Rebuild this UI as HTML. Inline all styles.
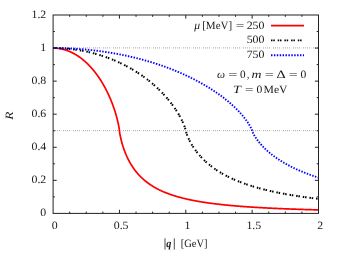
<!DOCTYPE html>
<html><head><meta charset="utf-8"><style>
html,body{margin:0;padding:0;background:#fff;}
svg{display:block}
text{font-family:"Liberation Serif",serif;font-size:11.2px;fill:#1a1a1a;text-rendering:geometricPrecision}
</style></head><body>
<svg width="342" height="254" viewBox="0 0 342 254">
<rect width="342" height="254" fill="#fff"/>
<g fill="none">
<path d="M53,47.97H318M53,130.63H318" stroke="#b6b6b6" stroke-width="1.2" stroke-dasharray="1,1,1,1,1,1,1,3"/>
<path d="M61,47.97H318M61,130.63H318" stroke="#ebebeb" stroke-width="1" stroke-dasharray="1,9"/>
<path d="M53.10,48.07 L53.43,48.07 L53.76,48.07 L54.10,48.08 L54.43,48.09 L54.76,48.10 L55.09,48.12 L55.42,48.13 L55.75,48.15 L56.09,48.18 L56.42,48.20 L56.75,48.23 L57.08,48.27 L57.41,48.30 L57.74,48.34 L58.08,48.38 L58.41,48.42 L58.74,48.47 L59.07,48.51 L59.40,48.56 L59.73,48.62 L60.07,48.68 L60.40,48.74 L60.73,48.80 L61.06,48.86 L61.39,48.93 L61.73,49.00 L62.06,49.07 L62.39,49.15 L62.72,49.23 L63.05,49.31 L63.38,49.40 L63.72,49.48 L64.05,49.58 L64.38,49.67 L64.71,49.76 L65.04,49.86 L65.37,49.97 L65.71,50.07 L66.04,50.18 L66.37,50.29 L66.70,50.40 L67.03,50.52 L67.37,50.64 L67.70,50.76 L68.03,50.89 L68.36,51.01 L68.69,51.14 L69.02,51.28 L69.36,51.42 L69.69,51.56 L70.02,51.70 L70.35,51.84 L70.68,51.99 L71.01,52.14 L71.35,52.30 L71.68,52.46 L72.01,52.62 L72.34,52.78 L72.67,52.95 L73.00,53.12 L73.34,53.29 L73.67,53.47 L74.00,53.65 L74.33,53.83 L74.66,54.02 L75.00,54.21 L75.33,54.40 L75.66,54.59 L75.99,54.79 L76.32,54.99 L76.65,55.20 L76.99,55.41 L77.32,55.62 L77.65,55.83 L77.98,56.05 L78.31,56.27 L78.64,56.49 L78.98,56.72 L79.31,56.95 L79.64,57.19 L79.97,57.43 L80.30,57.67 L80.64,57.91 L80.97,58.16 L81.30,58.41 L81.63,58.67 L81.96,58.93 L82.29,59.19 L82.63,59.45 L82.96,59.72 L83.29,60.00 L83.62,60.27 L83.95,60.55 L84.28,60.84 L84.62,61.12 L84.95,61.42 L85.28,61.71 L85.61,62.01 L85.94,62.31 L86.28,62.62 L86.61,62.93 L86.94,63.24 L87.27,63.56 L87.60,63.89 L87.93,64.21 L88.27,64.54 L88.60,64.88 L88.93,65.21 L89.26,65.56 L89.59,65.90 L89.92,66.26 L90.26,66.61 L90.59,66.97 L90.92,67.33 L91.25,67.70 L91.58,68.08 L91.91,68.45 L92.25,68.84 L92.58,69.22 L92.91,69.61 L93.24,70.01 L93.57,70.41 L93.91,70.81 L94.24,71.22 L94.57,71.64 L94.90,72.06 L95.23,72.48 L95.56,72.92 L95.90,73.35 L96.23,73.79 L96.56,74.24 L96.89,74.69 L97.22,75.14 L97.55,75.61 L97.89,76.07 L98.22,76.55 L98.55,77.03 L98.88,77.51 L99.21,78.00 L99.54,78.50 L99.88,79.00 L100.21,79.51 L100.54,80.02 L100.87,80.55 L101.20,81.07 L101.54,81.61 L101.87,82.15 L102.20,82.70 L102.53,83.25 L102.86,83.82 L103.19,84.38 L103.53,84.96 L103.86,85.55 L104.19,86.14 L104.52,86.74 L104.85,87.35 L105.18,87.96 L105.52,88.59 L105.85,89.22 L106.18,89.86 L106.51,90.52 L106.84,91.18 L107.18,91.85 L107.51,92.53 L107.84,93.22 L108.17,93.92 L108.50,94.63 L108.83,95.35 L109.17,96.09 L109.50,96.83 L109.83,97.59 L110.16,98.36 L110.49,99.14 L110.82,99.94 L111.16,100.75 L111.49,101.58 L111.82,102.42 L112.15,103.28 L112.48,104.15 L112.81,105.04 L113.15,105.95 L113.48,106.88 L113.81,107.83 L114.14,108.80 L114.47,109.80 L114.81,110.82 L115.14,111.87 L115.47,112.94 L115.80,114.05 L116.13,115.19 L116.46,116.37 L116.80,117.60 L117.13,118.87 L117.46,120.20 L117.79,121.59 L118.12,123.06 L118.45,124.63 L118.79,126.34 L119.12,128.25 L119.45,130.73 L119.78,133.20 L120.11,135.10 L120.45,136.76 L120.78,138.29 L121.11,139.70 L121.44,141.03 L121.77,142.29 L122.10,143.48 L122.44,144.62 L122.77,145.72 L123.10,146.77 L123.43,147.78 L123.76,148.75 L124.09,149.69 L124.43,150.60 L124.76,151.48 L125.09,152.34 L125.42,153.17 L125.75,153.97 L126.09,154.76 L126.42,155.52 L126.75,156.26 L127.08,156.99 L127.41,157.69 L127.74,158.38 L128.08,159.06 L128.41,159.71 L128.74,160.36 L129.07,160.98 L129.40,161.60 L129.73,162.20 L130.07,162.78 L130.40,163.36 L130.73,163.92 L131.06,164.47 L131.39,165.02 L131.72,165.55 L132.06,166.07 L132.39,166.57 L132.72,167.07 L133.05,167.57 L133.38,168.05 L133.72,168.52 L134.05,168.98 L134.38,169.44 L134.71,169.89 L135.04,170.33 L135.37,170.76 L135.71,171.18 L136.04,171.60 L136.37,172.01 L136.70,172.42 L137.03,172.81 L137.36,173.20 L137.70,173.59 L138.03,173.97 L138.36,174.34 L138.69,174.70 L139.02,175.06 L139.35,175.42 L139.69,175.77 L140.02,176.11 L140.35,176.45 L140.68,176.79 L141.01,177.11 L141.35,177.44 L141.68,177.76 L142.01,178.07 L142.34,178.38 L142.67,178.69 L143.00,178.99 L143.34,179.29 L143.67,179.58 L144.00,179.87 L144.33,180.15 L144.66,180.43 L144.99,180.71 L145.33,180.98 L145.66,181.25 L145.99,181.52 L146.32,181.78 L146.65,182.04 L146.99,182.29 L147.32,182.55 L147.65,182.79 L147.98,183.04 L148.31,183.28 L148.64,183.52 L148.98,183.76 L149.31,183.99 L149.64,184.22 L149.97,184.45 L150.30,184.67 L150.63,184.89 L150.97,185.11 L151.30,185.33 L151.63,185.54 L151.96,185.75 L152.29,185.96 L152.62,186.17 L152.96,186.37 L153.29,186.57 L153.62,186.77 L153.95,186.97 L154.28,187.16 L154.62,187.36 L154.95,187.55 L155.28,187.73 L155.61,187.92 L155.94,188.10 L156.27,188.28 L156.61,188.46 L156.94,188.64 L157.27,188.82 L157.60,188.99 L157.93,189.16 L158.26,189.33 L158.60,189.50 L158.93,189.66 L159.26,189.83 L159.59,189.99 L159.92,190.15 L160.26,190.31 L160.59,190.47 L160.92,190.62 L161.25,190.77 L161.58,190.93 L161.91,191.08 L162.25,191.23 L162.58,191.37 L162.91,191.52 L163.24,191.66 L163.57,191.81 L163.90,191.95 L164.24,192.09 L164.57,192.23 L164.90,192.36 L165.23,192.50 L165.56,192.63 L165.89,192.77 L166.23,192.90 L166.56,193.03 L166.89,193.16 L167.22,193.29 L167.55,193.41 L167.89,193.54 L168.22,193.66 L168.55,193.78 L168.88,193.91 L169.21,194.03 L169.54,194.15 L169.88,194.26 L170.21,194.38 L170.54,194.50 L170.87,194.61 L171.20,194.73 L171.53,194.84 L171.87,194.95 L172.20,195.06 L172.53,195.17 L172.86,195.28 L173.19,195.39 L173.53,195.49 L173.86,195.60 L174.19,195.71 L174.52,195.81 L174.85,195.91 L175.18,196.01 L175.52,196.11 L175.85,196.21 L176.18,196.31 L176.51,196.41 L176.84,196.51 L177.17,196.61 L177.51,196.70 L177.84,196.80 L178.17,196.89 L178.50,196.98 L178.83,197.08 L179.16,197.17 L179.50,197.26 L179.83,197.35 L180.16,197.44 L180.49,197.53 L180.82,197.62 L181.16,197.70 L181.49,197.79 L181.82,197.87 L182.15,197.96 L182.48,198.04 L182.81,198.13 L183.15,198.21 L183.48,198.29 L183.81,198.37 L184.14,198.45 L184.47,198.53 L184.80,198.61 L185.14,198.69 L185.47,198.77 L185.80,198.85 L186.13,198.92 L186.46,199.00 L186.80,199.08 L187.13,199.15 L187.46,199.23 L187.79,199.30 L188.12,199.37 L188.45,199.44 L188.79,199.52 L189.12,199.59 L189.45,199.66 L189.78,199.73 L190.11,199.80 L190.44,199.87 L190.78,199.94 L191.11,200.01 L191.44,200.07 L191.77,200.14 L192.10,200.21 L192.44,200.27 L192.77,200.34 L193.10,200.40 L193.43,200.47 L193.76,200.53 L194.09,200.60 L194.43,200.66 L194.76,200.72 L195.09,200.78 L195.42,200.85 L195.75,200.91 L196.08,200.97 L196.42,201.03 L196.75,201.09 L197.08,201.15 L197.41,201.21 L197.74,201.27 L198.07,201.32 L198.41,201.38 L198.74,201.44 L199.07,201.50 L199.40,201.55 L199.73,201.61 L200.07,201.66 L200.40,201.72 L200.73,201.77 L201.06,201.83 L201.39,201.88 L201.72,201.94 L202.06,201.99 L202.39,202.04 L202.72,202.10 L203.05,202.15 L203.38,202.20 L203.71,202.25 L204.05,202.30 L204.38,202.35 L204.71,202.40 L205.04,202.45 L205.37,202.50 L205.70,202.55 L206.04,202.60 L206.37,202.65 L206.70,202.70 L207.03,202.75 L207.36,202.79 L207.70,202.84 L208.03,202.89 L208.36,202.94 L208.69,202.98 L209.02,203.03 L209.35,203.07 L209.69,203.12 L210.02,203.16 L210.35,203.21 L210.68,203.25 L211.01,203.30 L211.34,203.34 L211.68,203.39 L212.01,203.43 L212.34,203.47 L212.67,203.52 L213.00,203.56 L213.34,203.60 L213.67,203.64 L214.00,203.68 L214.33,203.73 L214.66,203.77 L214.99,203.81 L215.33,203.85 L215.66,203.89 L215.99,203.93 L216.32,203.97 L216.65,204.01 L216.98,204.05 L217.32,204.09 L217.65,204.13 L217.98,204.16 L218.31,204.20 L218.64,204.24 L218.97,204.28 L219.31,204.32 L219.64,204.35 L219.97,204.39 L220.30,204.43 L220.63,204.46 L220.97,204.50 L221.30,204.54 L221.63,204.57 L221.96,204.61 L222.29,204.65 L222.62,204.68 L222.96,204.72 L223.29,204.75 L223.62,204.79 L223.95,204.82 L224.28,204.85 L224.61,204.89 L224.95,204.92 L225.28,204.96 L225.61,204.99 L225.94,205.02 L226.27,205.06 L226.61,205.09 L226.94,205.12 L227.27,205.15 L227.60,205.19 L227.93,205.22 L228.26,205.25 L228.60,205.28 L228.93,205.31 L229.26,205.35 L229.59,205.38 L229.92,205.41 L230.25,205.44 L230.59,205.47 L230.92,205.50 L231.25,205.53 L231.58,205.56 L231.91,205.59 L232.25,205.62 L232.58,205.65 L232.91,205.68 L233.24,205.71 L233.57,205.74 L233.90,205.77 L234.24,205.79 L234.57,205.82 L234.90,205.85 L235.23,205.88 L235.56,205.91 L235.89,205.94 L236.23,205.96 L236.56,205.99 L236.89,206.02 L237.22,206.05 L237.55,206.07 L237.88,206.10 L238.22,206.13 L238.55,206.15 L238.88,206.18 L239.21,206.21 L239.54,206.23 L239.88,206.26 L240.21,206.29 L240.54,206.31 L240.87,206.34 L241.20,206.36 L241.53,206.39 L241.87,206.41 L242.20,206.44 L242.53,206.46 L242.86,206.49 L243.19,206.51 L243.52,206.54 L243.86,206.56 L244.19,206.59 L244.52,206.61 L244.85,206.63 L245.18,206.66 L245.51,206.68 L245.85,206.71 L246.18,206.73 L246.51,206.75 L246.84,206.78 L247.17,206.80 L247.51,206.82 L247.84,206.85 L248.17,206.87 L248.50,206.89 L248.83,206.91 L249.16,206.94 L249.50,206.96 L249.83,206.98 L250.16,207.00 L250.49,207.03 L250.82,207.05 L251.15,207.07 L251.49,207.09 L251.82,207.11 L252.15,207.13 L252.48,207.15 L252.81,207.18 L253.15,207.20 L253.48,207.22 L253.81,207.24 L254.14,207.26 L254.47,207.28 L254.80,207.30 L255.14,207.32 L255.47,207.34 L255.80,207.36 L256.13,207.38 L256.46,207.40 L256.79,207.42 L257.13,207.44 L257.46,207.46 L257.79,207.48 L258.12,207.50 L258.45,207.52 L258.79,207.54 L259.12,207.56 L259.45,207.58 L259.78,207.60 L260.11,207.62 L260.44,207.64 L260.78,207.65 L261.11,207.67 L261.44,207.69 L261.77,207.71 L262.10,207.73 L262.43,207.75 L262.77,207.77 L263.10,207.78 L263.43,207.80 L263.76,207.82 L264.09,207.84 L264.42,207.86 L264.76,207.87 L265.09,207.89 L265.42,207.91 L265.75,207.93 L266.08,207.94 L266.42,207.96 L266.75,207.98 L267.08,207.99 L267.41,208.01 L267.74,208.03 L268.07,208.05 L268.41,208.06 L268.74,208.08 L269.07,208.10 L269.40,208.11 L269.73,208.13 L270.06,208.15 L270.40,208.16 L270.73,208.18 L271.06,208.19 L271.39,208.21 L271.72,208.23 L272.05,208.24 L272.39,208.26 L272.72,208.27 L273.05,208.29 L273.38,208.31 L273.71,208.32 L274.05,208.34 L274.38,208.35 L274.71,208.37 L275.04,208.38 L275.37,208.40 L275.70,208.41 L276.04,208.43 L276.37,208.44 L276.70,208.46 L277.03,208.47 L277.36,208.49 L277.69,208.50 L278.03,208.52 L278.36,208.53 L278.69,208.55 L279.02,208.56 L279.35,208.58 L279.69,208.59 L280.02,208.60 L280.35,208.62 L280.68,208.63 L281.01,208.65 L281.34,208.66 L281.68,208.68 L282.01,208.69 L282.34,208.70 L282.67,208.72 L283.00,208.73 L283.33,208.74 L283.67,208.76 L284.00,208.77 L284.33,208.78 L284.66,208.80 L284.99,208.81 L285.32,208.82 L285.66,208.84 L285.99,208.85 L286.32,208.86 L286.65,208.88 L286.98,208.89 L287.32,208.90 L287.65,208.92 L287.98,208.93 L288.31,208.94 L288.64,208.96 L288.97,208.97 L289.31,208.98 L289.64,208.99 L289.97,209.01 L290.30,209.02 L290.63,209.03 L290.96,209.04 L291.30,209.06 L291.63,209.07 L291.96,209.08 L292.29,209.09 L292.62,209.10 L292.96,209.12 L293.29,209.13 L293.62,209.14 L293.95,209.15 L294.28,209.16 L294.61,209.18 L294.95,209.19 L295.28,209.20 L295.61,209.21 L295.94,209.22 L296.27,209.23 L296.60,209.25 L296.94,209.26 L297.27,209.27 L297.60,209.28 L297.93,209.29 L298.26,209.30 L298.60,209.31 L298.93,209.32 L299.26,209.34 L299.59,209.35 L299.92,209.36 L300.25,209.37 L300.59,209.38 L300.92,209.39 L301.25,209.40 L301.58,209.41 L301.91,209.42 L302.24,209.43 L302.58,209.44 L302.91,209.46 L303.24,209.47 L303.57,209.48 L303.90,209.49 L304.23,209.50 L304.57,209.51 L304.90,209.52 L305.23,209.53 L305.56,209.54 L305.89,209.55 L306.23,209.56 L306.56,209.57 L306.89,209.58 L307.22,209.59 L307.55,209.60 L307.88,209.61 L308.22,209.62 L308.55,209.63 L308.88,209.64 L309.21,209.65 L309.54,209.66 L309.87,209.67 L310.21,209.68 L310.54,209.69 L310.87,209.70 L311.20,209.71 L311.53,209.72 L311.87,209.73 L312.20,209.74 L312.53,209.75 L312.86,209.76 L313.19,209.77 L313.52,209.77 L313.86,209.78 L314.19,209.79 L314.52,209.80 L314.85,209.81 L315.18,209.82 L315.51,209.83 L315.85,209.84 L316.18,209.85 L316.51,209.86 L316.84,209.87 L317.17,209.88 L317.50,209.88 L317.84,209.89 L318.17,209.90 L318.50,209.91" stroke="#ff0000" stroke-width="1.7" stroke-linejoin="round"/>
<path d="M53.10,48.07 L53.43,48.07 L53.76,48.07 L54.10,48.07 L54.43,48.07 L54.76,48.08 L55.09,48.08 L55.42,48.08 L55.75,48.09 L56.09,48.09 L56.42,48.10 L56.75,48.11 L57.08,48.12 L57.41,48.12 L57.74,48.13 L58.08,48.14 L58.41,48.15 L58.74,48.17 L59.07,48.18 L59.40,48.19 L59.73,48.20 L60.07,48.22 L60.40,48.23 L60.73,48.25 L61.06,48.27 L61.39,48.28 L61.73,48.30 L62.06,48.32 L62.39,48.34 L62.72,48.36 L63.05,48.38 L63.38,48.40 L63.72,48.42 L64.05,48.44 L64.38,48.47 L64.71,48.49 L65.04,48.51 L65.37,48.54 L65.71,48.56 L66.04,48.59 L66.37,48.62 L66.70,48.65 L67.03,48.68 L67.37,48.71 L67.70,48.74 L68.03,48.77 L68.36,48.80 L68.69,48.83 L69.02,48.86 L69.36,48.90 L69.69,48.93 L70.02,48.97 L70.35,49.00 L70.68,49.04 L71.01,49.07 L71.35,49.11 L71.68,49.15 L72.01,49.19 L72.34,49.23 L72.67,49.27 L73.00,49.31 L73.34,49.35 L73.67,49.40 L74.00,49.44 L74.33,49.48 L74.66,49.53 L75.00,49.58 L75.33,49.62 L75.66,49.67 L75.99,49.72 L76.32,49.76 L76.65,49.81 L76.99,49.86 L77.32,49.91 L77.65,49.97 L77.98,50.02 L78.31,50.07 L78.64,50.12 L78.98,50.18 L79.31,50.23 L79.64,50.29 L79.97,50.35 L80.30,50.40 L80.64,50.46 L80.97,50.52 L81.30,50.58 L81.63,50.64 L81.96,50.70 L82.29,50.76 L82.63,50.82 L82.96,50.89 L83.29,50.95 L83.62,51.01 L83.95,51.08 L84.28,51.14 L84.62,51.21 L84.95,51.28 L85.28,51.35 L85.61,51.42 L85.94,51.49 L86.28,51.56 L86.61,51.63 L86.94,51.70 L87.27,51.77 L87.60,51.84 L87.93,51.92 L88.27,51.99 L88.60,52.07 L88.93,52.14 L89.26,52.22 L89.59,52.30 L89.92,52.38 L90.26,52.46 L90.59,52.54 L90.92,52.62 L91.25,52.70 L91.58,52.78 L91.91,52.87 L92.25,52.95 L92.58,53.03 L92.91,53.12 L93.24,53.21 L93.57,53.29 L93.91,53.38 L94.24,53.47 L94.57,53.56 L94.90,53.65 L95.23,53.74 L95.56,53.83 L95.90,53.92 L96.23,54.02 L96.56,54.11 L96.89,54.21 L97.22,54.30 L97.55,54.40 L97.89,54.49 L98.22,54.59 L98.55,54.69 L98.88,54.79 L99.21,54.89 L99.54,54.99 L99.88,55.09 L100.21,55.20 L100.54,55.30 L100.87,55.41 L101.20,55.51 L101.54,55.62 L101.87,55.72 L102.20,55.83 L102.53,55.94 L102.86,56.05 L103.19,56.16 L103.53,56.27 L103.86,56.38 L104.19,56.49 L104.52,56.61 L104.85,56.72 L105.18,56.84 L105.52,56.95 L105.85,57.07 L106.18,57.19 L106.51,57.31 L106.84,57.43 L107.18,57.55 L107.51,57.67 L107.84,57.79 L108.17,57.91 L108.50,58.04 L108.83,58.16 L109.17,58.29 L109.50,58.41 L109.83,58.54 L110.16,58.67 L110.49,58.80 L110.82,58.93 L111.16,59.06 L111.49,59.19 L111.82,59.32 L112.15,59.45 L112.48,59.59 L112.81,59.72 L113.15,59.86 L113.48,60.00 L113.81,60.13 L114.14,60.27 L114.47,60.41 L114.81,60.55 L115.14,60.69 L115.47,60.84 L115.80,60.98 L116.13,61.12 L116.46,61.27 L116.80,61.42 L117.13,61.56 L117.46,61.71 L117.79,61.86 L118.12,62.01 L118.45,62.16 L118.79,62.31 L119.12,62.47 L119.45,62.62 L119.78,62.77 L120.11,62.93 L120.45,63.09 L120.78,63.24 L121.11,63.40 L121.44,63.56 L121.77,63.72 L122.10,63.89 L122.44,64.05 L122.77,64.21 L123.10,64.38 L123.43,64.54 L123.76,64.71 L124.09,64.88 L124.43,65.05 L124.76,65.21 L125.09,65.39 L125.42,65.56 L125.75,65.73 L126.09,65.90 L126.42,66.08 L126.75,66.26 L127.08,66.43 L127.41,66.61 L127.74,66.79 L128.08,66.97 L128.41,67.15 L128.74,67.33 L129.07,67.52 L129.40,67.70 L129.73,67.89 L130.07,68.08 L130.40,68.26 L130.73,68.45 L131.06,68.64 L131.39,68.84 L131.72,69.03 L132.06,69.22 L132.39,69.42 L132.72,69.61 L133.05,69.81 L133.38,70.01 L133.72,70.21 L134.05,70.41 L134.38,70.61 L134.71,70.81 L135.04,71.02 L135.37,71.22 L135.71,71.43 L136.04,71.64 L136.37,71.85 L136.70,72.06 L137.03,72.27 L137.36,72.48 L137.70,72.70 L138.03,72.92 L138.36,73.13 L138.69,73.35 L139.02,73.57 L139.35,73.79 L139.69,74.01 L140.02,74.24 L140.35,74.46 L140.68,74.69 L141.01,74.91 L141.35,75.14 L141.68,75.37 L142.01,75.61 L142.34,75.84 L142.67,76.07 L143.00,76.31 L143.34,76.55 L143.67,76.79 L144.00,77.03 L144.33,77.27 L144.66,77.51 L144.99,77.75 L145.33,78.00 L145.66,78.25 L145.99,78.50 L146.32,78.75 L146.65,79.00 L146.99,79.25 L147.32,79.51 L147.65,79.77 L147.98,80.02 L148.31,80.28 L148.64,80.55 L148.98,80.81 L149.31,81.07 L149.64,81.34 L149.97,81.61 L150.30,81.88 L150.63,82.15 L150.97,82.42 L151.30,82.70 L151.63,82.97 L151.96,83.25 L152.29,83.53 L152.62,83.82 L152.96,84.10 L153.29,84.38 L153.62,84.67 L153.95,84.96 L154.28,85.25 L154.62,85.55 L154.95,85.84 L155.28,86.14 L155.61,86.44 L155.94,86.74 L156.27,87.04 L156.61,87.35 L156.94,87.65 L157.27,87.96 L157.60,88.28 L157.93,88.59 L158.26,88.90 L158.60,89.22 L158.93,89.54 L159.26,89.86 L159.59,90.19 L159.92,90.52 L160.26,90.85 L160.59,91.18 L160.92,91.51 L161.25,91.85 L161.58,92.19 L161.91,92.53 L162.25,92.87 L162.58,93.22 L162.91,93.57 L163.24,93.92 L163.57,94.27 L163.90,94.63 L164.24,94.99 L164.57,95.35 L164.90,95.72 L165.23,96.09 L165.56,96.46 L165.89,96.83 L166.23,97.21 L166.56,97.59 L166.89,97.97 L167.22,98.36 L167.55,98.75 L167.89,99.14 L168.22,99.54 L168.55,99.94 L168.88,100.34 L169.21,100.75 L169.54,101.16 L169.88,101.58 L170.21,102.00 L170.54,102.42 L170.87,102.84 L171.20,103.28 L171.53,103.71 L171.87,104.15 L172.20,104.59 L172.53,105.04 L172.86,105.49 L173.19,105.95 L173.53,106.41 L173.86,106.88 L174.19,107.35 L174.52,107.83 L174.85,108.31 L175.18,108.80 L175.52,109.30 L175.85,109.80 L176.18,110.30 L176.51,110.82 L176.84,111.34 L177.17,111.87 L177.51,112.40 L177.84,112.94 L178.17,113.49 L178.50,114.05 L178.83,114.62 L179.16,115.19 L179.50,115.78 L179.83,116.37 L180.16,116.98 L180.49,117.60 L180.82,118.23 L181.16,118.87 L181.49,119.52 L181.82,120.20 L182.15,120.88 L182.48,121.59 L182.81,122.31 L183.15,123.06 L183.48,123.83 L183.81,124.63 L184.14,125.46 L184.47,126.34 L184.80,127.26 L185.14,128.25 L185.47,129.35 L185.80,130.73 L186.13,132.11 L186.46,133.20 L186.80,134.19 L187.13,135.10 L187.46,135.95 L187.79,136.76 L188.12,137.54 L188.45,138.29 L188.79,139.01 L189.12,139.70 L189.45,140.38 L189.78,141.03 L190.11,141.67 L190.44,142.29 L190.78,142.89 L191.11,143.48 L191.44,144.06 L191.77,144.62 L192.10,145.18 L192.44,145.72 L192.77,146.25 L193.10,146.77 L193.43,147.28 L193.76,147.78 L194.09,148.27 L194.43,148.75 L194.76,149.22 L195.09,149.69 L195.42,150.15 L195.75,150.60 L196.08,151.04 L196.42,151.48 L196.75,151.91 L197.08,152.34 L197.41,152.76 L197.74,153.17 L198.07,153.57 L198.41,153.97 L198.74,154.37 L199.07,154.76 L199.40,155.14 L199.73,155.52 L200.07,155.89 L200.40,156.26 L200.73,156.63 L201.06,156.99 L201.39,157.34 L201.72,157.69 L202.06,158.04 L202.39,158.38 L202.72,158.72 L203.05,159.06 L203.38,159.39 L203.71,159.71 L204.05,160.04 L204.38,160.36 L204.71,160.67 L205.04,160.98 L205.37,161.29 L205.70,161.60 L206.04,161.90 L206.37,162.20 L206.70,162.49 L207.03,162.78 L207.36,163.07 L207.70,163.36 L208.03,163.64 L208.36,163.92 L208.69,164.20 L209.02,164.47 L209.35,164.75 L209.69,165.02 L210.02,165.28 L210.35,165.55 L210.68,165.81 L211.01,166.07 L211.34,166.32 L211.68,166.57 L212.01,166.83 L212.34,167.07 L212.67,167.32 L213.00,167.57 L213.34,167.81 L213.67,168.05 L214.00,168.28 L214.33,168.52 L214.66,168.75 L214.99,168.98 L215.33,169.21 L215.66,169.44 L215.99,169.66 L216.32,169.89 L216.65,170.11 L216.98,170.33 L217.32,170.54 L217.65,170.76 L217.98,170.97 L218.31,171.18 L218.64,171.39 L218.97,171.60 L219.31,171.81 L219.64,172.01 L219.97,172.21 L220.30,172.42 L220.63,172.62 L220.97,172.81 L221.30,173.01 L221.63,173.20 L221.96,173.40 L222.29,173.59 L222.62,173.78 L222.96,173.97 L223.29,174.15 L223.62,174.34 L223.95,174.52 L224.28,174.70 L224.61,174.89 L224.95,175.06 L225.28,175.24 L225.61,175.42 L225.94,175.59 L226.27,175.77 L226.61,175.94 L226.94,176.11 L227.27,176.28 L227.60,176.45 L227.93,176.62 L228.26,176.79 L228.60,176.95 L228.93,177.11 L229.26,177.28 L229.59,177.44 L229.92,177.60 L230.25,177.76 L230.59,177.92 L230.92,178.07 L231.25,178.23 L231.58,178.38 L231.91,178.54 L232.25,178.69 L232.58,178.84 L232.91,178.99 L233.24,179.14 L233.57,179.29 L233.90,179.43 L234.24,179.58 L234.57,179.72 L234.90,179.87 L235.23,180.01 L235.56,180.15 L235.89,180.29 L236.23,180.43 L236.56,180.57 L236.89,180.71 L237.22,180.85 L237.55,180.98 L237.88,181.12 L238.22,181.25 L238.55,181.38 L238.88,181.52 L239.21,181.65 L239.54,181.78 L239.88,181.91 L240.21,182.04 L240.54,182.17 L240.87,182.29 L241.20,182.42 L241.53,182.55 L241.87,182.67 L242.20,182.79 L242.53,182.92 L242.86,183.04 L243.19,183.16 L243.52,183.28 L243.86,183.40 L244.19,183.52 L244.52,183.64 L244.85,183.76 L245.18,183.87 L245.51,183.99 L245.85,184.11 L246.18,184.22 L246.51,184.33 L246.84,184.45 L247.17,184.56 L247.51,184.67 L247.84,184.78 L248.17,184.89 L248.50,185.00 L248.83,185.11 L249.16,185.22 L249.50,185.33 L249.83,185.44 L250.16,185.54 L250.49,185.65 L250.82,185.75 L251.15,185.86 L251.49,185.96 L251.82,186.07 L252.15,186.17 L252.48,186.27 L252.81,186.37 L253.15,186.47 L253.48,186.57 L253.81,186.67 L254.14,186.77 L254.47,186.87 L254.80,186.97 L255.14,187.07 L255.47,187.16 L255.80,187.26 L256.13,187.36 L256.46,187.45 L256.79,187.55 L257.13,187.64 L257.46,187.73 L257.79,187.83 L258.12,187.92 L258.45,188.01 L258.79,188.10 L259.12,188.19 L259.45,188.28 L259.78,188.37 L260.11,188.46 L260.44,188.55 L260.78,188.64 L261.11,188.73 L261.44,188.82 L261.77,188.90 L262.10,188.99 L262.43,189.07 L262.77,189.16 L263.10,189.24 L263.43,189.33 L263.76,189.41 L264.09,189.50 L264.42,189.58 L264.76,189.66 L265.09,189.74 L265.42,189.83 L265.75,189.91 L266.08,189.99 L266.42,190.07 L266.75,190.15 L267.08,190.23 L267.41,190.31 L267.74,190.39 L268.07,190.47 L268.41,190.54 L268.74,190.62 L269.07,190.70 L269.40,190.77 L269.73,190.85 L270.06,190.93 L270.40,191.00 L270.73,191.08 L271.06,191.15 L271.39,191.23 L271.72,191.30 L272.05,191.37 L272.39,191.45 L272.72,191.52 L273.05,191.59 L273.38,191.66 L273.71,191.73 L274.05,191.81 L274.38,191.88 L274.71,191.95 L275.04,192.02 L275.37,192.09 L275.70,192.16 L276.04,192.23 L276.37,192.29 L276.70,192.36 L277.03,192.43 L277.36,192.50 L277.69,192.57 L278.03,192.63 L278.36,192.70 L278.69,192.77 L279.02,192.83 L279.35,192.90 L279.69,192.96 L280.02,193.03 L280.35,193.09 L280.68,193.16 L281.01,193.22 L281.34,193.29 L281.68,193.35 L282.01,193.41 L282.34,193.48 L282.67,193.54 L283.00,193.60 L283.33,193.66 L283.67,193.72 L284.00,193.78 L284.33,193.85 L284.66,193.91 L284.99,193.97 L285.32,194.03 L285.66,194.09 L285.99,194.15 L286.32,194.21 L286.65,194.26 L286.98,194.32 L287.32,194.38 L287.65,194.44 L287.98,194.50 L288.31,194.56 L288.64,194.61 L288.97,194.67 L289.31,194.73 L289.64,194.78 L289.97,194.84 L290.30,194.90 L290.63,194.95 L290.96,195.01 L291.30,195.06 L291.63,195.12 L291.96,195.17 L292.29,195.23 L292.62,195.28 L292.96,195.33 L293.29,195.39 L293.62,195.44 L293.95,195.49 L294.28,195.55 L294.61,195.60 L294.95,195.65 L295.28,195.71 L295.61,195.76 L295.94,195.81 L296.27,195.86 L296.60,195.91 L296.94,195.96 L297.27,196.01 L297.60,196.06 L297.93,196.11 L298.26,196.17 L298.60,196.21 L298.93,196.26 L299.26,196.31 L299.59,196.36 L299.92,196.41 L300.25,196.46 L300.59,196.51 L300.92,196.56 L301.25,196.61 L301.58,196.65 L301.91,196.70 L302.24,196.75 L302.58,196.80 L302.91,196.84 L303.24,196.89 L303.57,196.94 L303.90,196.98 L304.23,197.03 L304.57,197.08 L304.90,197.12 L305.23,197.17 L305.56,197.21 L305.89,197.26 L306.23,197.30 L306.56,197.35 L306.89,197.39 L307.22,197.44 L307.55,197.48 L307.88,197.53 L308.22,197.57 L308.55,197.62 L308.88,197.66 L309.21,197.70 L309.54,197.75 L309.87,197.79 L310.21,197.83 L310.54,197.87 L310.87,197.92 L311.20,197.96 L311.53,198.00 L311.87,198.04 L312.20,198.09 L312.53,198.13 L312.86,198.17 L313.19,198.21 L313.52,198.25 L313.86,198.29 L314.19,198.33 L314.52,198.37 L314.85,198.41 L315.18,198.45 L315.51,198.49 L315.85,198.53 L316.18,198.57 L316.51,198.61 L316.84,198.65 L317.17,198.69 L317.50,198.73 L317.84,198.77 L318.17,198.81 L318.50,198.85" stroke="#000" stroke-width="2.0" stroke-dasharray="1.5,0.8,1.5,2.9"/>
<path d="M53.10,48.07 L53.43,48.07 L53.76,48.07 L54.10,48.07 L54.43,48.07 L54.76,48.07 L55.09,48.07 L55.42,48.07 L55.75,48.08 L56.09,48.08 L56.42,48.08 L56.75,48.09 L57.08,48.09 L57.41,48.09 L57.74,48.10 L58.08,48.10 L58.41,48.11 L58.74,48.11 L59.07,48.12 L59.40,48.12 L59.73,48.13 L60.07,48.13 L60.40,48.14 L60.73,48.15 L61.06,48.15 L61.39,48.16 L61.73,48.17 L62.06,48.18 L62.39,48.19 L62.72,48.20 L63.05,48.20 L63.38,48.21 L63.72,48.22 L64.05,48.23 L64.38,48.24 L64.71,48.25 L65.04,48.27 L65.37,48.28 L65.71,48.29 L66.04,48.30 L66.37,48.31 L66.70,48.32 L67.03,48.34 L67.37,48.35 L67.70,48.36 L68.03,48.38 L68.36,48.39 L68.69,48.41 L69.02,48.42 L69.36,48.43 L69.69,48.45 L70.02,48.47 L70.35,48.48 L70.68,48.50 L71.01,48.51 L71.35,48.53 L71.68,48.55 L72.01,48.56 L72.34,48.58 L72.67,48.60 L73.00,48.62 L73.34,48.64 L73.67,48.66 L74.00,48.68 L74.33,48.70 L74.66,48.71 L75.00,48.74 L75.33,48.76 L75.66,48.78 L75.99,48.80 L76.32,48.82 L76.65,48.84 L76.99,48.86 L77.32,48.88 L77.65,48.91 L77.98,48.93 L78.31,48.95 L78.64,48.98 L78.98,49.00 L79.31,49.03 L79.64,49.05 L79.97,49.07 L80.30,49.10 L80.64,49.13 L80.97,49.15 L81.30,49.18 L81.63,49.20 L81.96,49.23 L82.29,49.26 L82.63,49.28 L82.96,49.31 L83.29,49.34 L83.62,49.37 L83.95,49.40 L84.28,49.43 L84.62,49.46 L84.95,49.48 L85.28,49.51 L85.61,49.54 L85.94,49.58 L86.28,49.61 L86.61,49.64 L86.94,49.67 L87.27,49.70 L87.60,49.73 L87.93,49.76 L88.27,49.80 L88.60,49.83 L88.93,49.86 L89.26,49.90 L89.59,49.93 L89.92,49.97 L90.26,50.00 L90.59,50.04 L90.92,50.07 L91.25,50.11 L91.58,50.14 L91.91,50.18 L92.25,50.22 L92.58,50.25 L92.91,50.29 L93.24,50.33 L93.57,50.36 L93.91,50.40 L94.24,50.44 L94.57,50.48 L94.90,50.52 L95.23,50.56 L95.56,50.60 L95.90,50.64 L96.23,50.68 L96.56,50.72 L96.89,50.76 L97.22,50.80 L97.55,50.84 L97.89,50.89 L98.22,50.93 L98.55,50.97 L98.88,51.01 L99.21,51.06 L99.54,51.10 L99.88,51.14 L100.21,51.19 L100.54,51.23 L100.87,51.28 L101.20,51.32 L101.54,51.37 L101.87,51.42 L102.20,51.46 L102.53,51.51 L102.86,51.56 L103.19,51.60 L103.53,51.65 L103.86,51.70 L104.19,51.75 L104.52,51.80 L104.85,51.84 L105.18,51.89 L105.52,51.94 L105.85,51.99 L106.18,52.04 L106.51,52.09 L106.84,52.14 L107.18,52.20 L107.51,52.25 L107.84,52.30 L108.17,52.35 L108.50,52.40 L108.83,52.46 L109.17,52.51 L109.50,52.56 L109.83,52.62 L110.16,52.67 L110.49,52.73 L110.82,52.78 L111.16,52.84 L111.49,52.89 L111.82,52.95 L112.15,53.01 L112.48,53.06 L112.81,53.12 L113.15,53.18 L113.48,53.23 L113.81,53.29 L114.14,53.35 L114.47,53.41 L114.81,53.47 L115.14,53.53 L115.47,53.59 L115.80,53.65 L116.13,53.71 L116.46,53.77 L116.80,53.83 L117.13,53.89 L117.46,53.95 L117.79,54.02 L118.12,54.08 L118.45,54.14 L118.79,54.21 L119.12,54.27 L119.45,54.33 L119.78,54.40 L120.11,54.46 L120.45,54.53 L120.78,54.59 L121.11,54.66 L121.44,54.72 L121.77,54.79 L122.10,54.86 L122.44,54.92 L122.77,54.99 L123.10,55.06 L123.43,55.13 L123.76,55.20 L124.09,55.27 L124.43,55.34 L124.76,55.41 L125.09,55.48 L125.42,55.55 L125.75,55.62 L126.09,55.69 L126.42,55.76 L126.75,55.83 L127.08,55.90 L127.41,55.98 L127.74,56.05 L128.08,56.12 L128.41,56.20 L128.74,56.27 L129.07,56.34 L129.40,56.42 L129.73,56.49 L130.07,56.57 L130.40,56.65 L130.73,56.72 L131.06,56.80 L131.39,56.88 L131.72,56.95 L132.06,57.03 L132.39,57.11 L132.72,57.19 L133.05,57.27 L133.38,57.35 L133.72,57.43 L134.05,57.51 L134.38,57.59 L134.71,57.67 L135.04,57.75 L135.37,57.83 L135.71,57.91 L136.04,57.99 L136.37,58.08 L136.70,58.16 L137.03,58.24 L137.36,58.33 L137.70,58.41 L138.03,58.50 L138.36,58.58 L138.69,58.67 L139.02,58.75 L139.35,58.84 L139.69,58.93 L140.02,59.01 L140.35,59.10 L140.68,59.19 L141.01,59.28 L141.35,59.36 L141.68,59.45 L142.01,59.54 L142.34,59.63 L142.67,59.72 L143.00,59.81 L143.34,59.90 L143.67,60.00 L144.00,60.09 L144.33,60.18 L144.66,60.27 L144.99,60.37 L145.33,60.46 L145.66,60.55 L145.99,60.65 L146.32,60.74 L146.65,60.84 L146.99,60.93 L147.32,61.03 L147.65,61.12 L147.98,61.22 L148.31,61.32 L148.64,61.42 L148.98,61.51 L149.31,61.61 L149.64,61.71 L149.97,61.81 L150.30,61.91 L150.63,62.01 L150.97,62.11 L151.30,62.21 L151.63,62.31 L151.96,62.41 L152.29,62.52 L152.62,62.62 L152.96,62.72 L153.29,62.83 L153.62,62.93 L153.95,63.03 L154.28,63.14 L154.62,63.24 L154.95,63.35 L155.28,63.46 L155.61,63.56 L155.94,63.67 L156.27,63.78 L156.61,63.89 L156.94,63.99 L157.27,64.10 L157.60,64.21 L157.93,64.32 L158.26,64.43 L158.60,64.54 L158.93,64.65 L159.26,64.76 L159.59,64.88 L159.92,64.99 L160.26,65.10 L160.59,65.21 L160.92,65.33 L161.25,65.44 L161.58,65.56 L161.91,65.67 L162.25,65.79 L162.58,65.90 L162.91,66.02 L163.24,66.14 L163.57,66.26 L163.90,66.37 L164.24,66.49 L164.57,66.61 L164.90,66.73 L165.23,66.85 L165.56,66.97 L165.89,67.09 L166.23,67.21 L166.56,67.33 L166.89,67.46 L167.22,67.58 L167.55,67.70 L167.89,67.83 L168.22,67.95 L168.55,68.08 L168.88,68.20 L169.21,68.33 L169.54,68.45 L169.88,68.58 L170.21,68.71 L170.54,68.84 L170.87,68.96 L171.20,69.09 L171.53,69.22 L171.87,69.35 L172.20,69.48 L172.53,69.61 L172.86,69.74 L173.19,69.88 L173.53,70.01 L173.86,70.14 L174.19,70.28 L174.52,70.41 L174.85,70.54 L175.18,70.68 L175.52,70.81 L175.85,70.95 L176.18,71.09 L176.51,71.22 L176.84,71.36 L177.17,71.50 L177.51,71.64 L177.84,71.78 L178.17,71.92 L178.50,72.06 L178.83,72.20 L179.16,72.34 L179.50,72.48 L179.83,72.63 L180.16,72.77 L180.49,72.92 L180.82,73.06 L181.16,73.20 L181.49,73.35 L181.82,73.50 L182.15,73.64 L182.48,73.79 L182.81,73.94 L183.15,74.09 L183.48,74.24 L183.81,74.39 L184.14,74.54 L184.47,74.69 L184.80,74.84 L185.14,74.99 L185.47,75.14 L185.80,75.30 L186.13,75.45 L186.46,75.61 L186.80,75.76 L187.13,75.92 L187.46,76.07 L187.79,76.23 L188.12,76.39 L188.45,76.55 L188.79,76.71 L189.12,76.86 L189.45,77.03 L189.78,77.19 L190.11,77.35 L190.44,77.51 L190.78,77.67 L191.11,77.84 L191.44,78.00 L191.77,78.17 L192.10,78.33 L192.44,78.50 L192.77,78.66 L193.10,78.83 L193.43,79.00 L193.76,79.17 L194.09,79.34 L194.43,79.51 L194.76,79.68 L195.09,79.85 L195.42,80.02 L195.75,80.20 L196.08,80.37 L196.42,80.55 L196.75,80.72 L197.08,80.90 L197.41,81.07 L197.74,81.25 L198.07,81.43 L198.41,81.61 L198.74,81.79 L199.07,81.97 L199.40,82.15 L199.73,82.33 L200.07,82.51 L200.40,82.70 L200.73,82.88 L201.06,83.07 L201.39,83.25 L201.72,83.44 L202.06,83.63 L202.39,83.82 L202.72,84.00 L203.05,84.19 L203.38,84.38 L203.71,84.58 L204.05,84.77 L204.38,84.96 L204.71,85.16 L205.04,85.35 L205.37,85.55 L205.70,85.74 L206.04,85.94 L206.37,86.14 L206.70,86.34 L207.03,86.54 L207.36,86.74 L207.70,86.94 L208.03,87.14 L208.36,87.35 L208.69,87.55 L209.02,87.76 L209.35,87.96 L209.69,88.17 L210.02,88.38 L210.35,88.59 L210.68,88.80 L211.01,89.01 L211.34,89.22 L211.68,89.44 L212.01,89.65 L212.34,89.86 L212.67,90.08 L213.00,90.30 L213.34,90.52 L213.67,90.74 L214.00,90.96 L214.33,91.18 L214.66,91.40 L214.99,91.62 L215.33,91.85 L215.66,92.07 L215.99,92.30 L216.32,92.53 L216.65,92.76 L216.98,92.99 L217.32,93.22 L217.65,93.45 L217.98,93.68 L218.31,93.92 L218.64,94.15 L218.97,94.39 L219.31,94.63 L219.64,94.87 L219.97,95.11 L220.30,95.35 L220.63,95.60 L220.97,95.84 L221.30,96.09 L221.63,96.33 L221.96,96.58 L222.29,96.83 L222.62,97.08 L222.96,97.34 L223.29,97.59 L223.62,97.85 L223.95,98.10 L224.28,98.36 L224.61,98.62 L224.95,98.88 L225.28,99.14 L225.61,99.41 L225.94,99.67 L226.27,99.94 L226.61,100.21 L226.94,100.48 L227.27,100.75 L227.60,101.02 L227.93,101.30 L228.26,101.58 L228.60,101.86 L228.93,102.14 L229.26,102.42 L229.59,102.70 L229.92,102.99 L230.25,103.28 L230.59,103.56 L230.92,103.86 L231.25,104.15 L231.58,104.44 L231.91,104.74 L232.25,105.04 L232.58,105.34 L232.91,105.64 L233.24,105.95 L233.57,106.26 L233.90,106.57 L234.24,106.88 L234.57,107.19 L234.90,107.51 L235.23,107.83 L235.56,108.15 L235.89,108.48 L236.23,108.80 L236.56,109.13 L236.89,109.46 L237.22,109.80 L237.55,110.13 L237.88,110.47 L238.22,110.82 L238.55,111.16 L238.88,111.51 L239.21,111.87 L239.54,112.22 L239.88,112.58 L240.21,112.94 L240.54,113.31 L240.87,113.68 L241.20,114.05 L241.53,114.43 L241.87,114.81 L242.20,115.19 L242.53,115.58 L242.86,115.97 L243.19,116.37 L243.52,116.78 L243.86,117.18 L244.19,117.60 L244.52,118.01 L244.85,118.44 L245.18,118.87 L245.51,119.30 L245.85,119.75 L246.18,120.20 L246.51,120.65 L246.84,121.12 L247.17,121.59 L247.51,122.07 L247.84,122.56 L248.17,123.06 L248.50,123.57 L248.83,124.09 L249.16,124.63 L249.50,125.18 L249.83,125.75 L250.16,126.34 L250.49,126.94 L250.82,127.58 L251.15,128.25 L251.49,128.97 L251.82,129.76 L252.15,130.73 L252.48,131.71 L252.81,132.49 L253.15,133.20 L253.48,133.87 L253.81,134.50 L254.14,135.10 L254.47,135.67 L254.80,136.23 L255.14,136.76 L255.47,137.29 L255.80,137.79 L256.13,138.29 L256.46,138.77 L256.79,139.24 L257.13,139.70 L257.46,140.16 L257.79,140.60 L258.12,141.03 L258.45,141.46 L258.79,141.88 L259.12,142.29 L259.45,142.69 L259.78,143.09 L260.11,143.48 L260.44,143.87 L260.78,144.25 L261.11,144.62 L261.44,144.99 L261.77,145.36 L262.10,145.72 L262.43,146.07 L262.77,146.42 L263.10,146.77 L263.43,147.11 L263.76,147.44 L264.09,147.78 L264.42,148.10 L264.76,148.43 L265.09,148.75 L265.42,149.07 L265.75,149.38 L266.08,149.69 L266.42,150.00 L266.75,150.30 L267.08,150.60 L267.41,150.90 L267.74,151.19 L268.07,151.48 L268.41,151.77 L268.74,152.05 L269.07,152.34 L269.40,152.62 L269.73,152.89 L270.06,153.17 L270.40,153.44 L270.73,153.71 L271.06,153.97 L271.39,154.24 L271.72,154.50 L272.05,154.76 L272.39,155.01 L272.72,155.27 L273.05,155.52 L273.38,155.77 L273.71,156.02 L274.05,156.26 L274.38,156.51 L274.71,156.75 L275.04,156.99 L275.37,157.23 L275.70,157.46 L276.04,157.69 L276.37,157.93 L276.70,158.16 L277.03,158.38 L277.36,158.61 L277.69,158.83 L278.03,159.06 L278.36,159.28 L278.69,159.50 L279.02,159.71 L279.35,159.93 L279.69,160.14 L280.02,160.36 L280.35,160.57 L280.68,160.77 L281.01,160.98 L281.34,161.19 L281.68,161.39 L282.01,161.60 L282.34,161.80 L282.67,162.00 L283.00,162.20 L283.33,162.39 L283.67,162.59 L284.00,162.78 L284.33,162.98 L284.66,163.17 L284.99,163.36 L285.32,163.55 L285.66,163.74 L285.99,163.92 L286.32,164.11 L286.65,164.29 L286.98,164.47 L287.32,164.66 L287.65,164.84 L287.98,165.02 L288.31,165.19 L288.64,165.37 L288.97,165.55 L289.31,165.72 L289.64,165.89 L289.97,166.07 L290.30,166.24 L290.63,166.41 L290.96,166.57 L291.30,166.74 L291.63,166.91 L291.96,167.07 L292.29,167.24 L292.62,167.40 L292.96,167.57 L293.29,167.73 L293.62,167.89 L293.95,168.05 L294.28,168.21 L294.61,168.36 L294.95,168.52 L295.28,168.68 L295.61,168.83 L295.94,168.98 L296.27,169.14 L296.60,169.29 L296.94,169.44 L297.27,169.59 L297.60,169.74 L297.93,169.89 L298.26,170.03 L298.60,170.18 L298.93,170.33 L299.26,170.47 L299.59,170.62 L299.92,170.76 L300.25,170.90 L300.59,171.04 L300.92,171.18 L301.25,171.32 L301.58,171.46 L301.91,171.60 L302.24,171.74 L302.58,171.88 L302.91,172.01 L303.24,172.15 L303.57,172.28 L303.90,172.42 L304.23,172.55 L304.57,172.68 L304.90,172.81 L305.23,172.94 L305.56,173.07 L305.89,173.20 L306.23,173.33 L306.56,173.46 L306.89,173.59 L307.22,173.71 L307.55,173.84 L307.88,173.97 L308.22,174.09 L308.55,174.21 L308.88,174.34 L309.21,174.46 L309.54,174.58 L309.87,174.70 L310.21,174.82 L310.54,174.95 L310.87,175.06 L311.20,175.18 L311.53,175.30 L311.87,175.42 L312.20,175.54 L312.53,175.65 L312.86,175.77 L313.19,175.88 L313.52,176.00 L313.86,176.11 L314.19,176.23 L314.52,176.34 L314.85,176.45 L315.18,176.56 L315.51,176.67 L315.85,176.79 L316.18,176.90 L316.51,177.01 L316.84,177.11 L317.17,177.22 L317.50,177.33 L317.84,177.44 L318.17,177.55 L318.50,177.65" stroke="#0000ff" stroke-width="1.9" stroke-dasharray="1.45,1.45"/>
<path d="M271,25.7H304" stroke="#ff0000" stroke-width="1.7"/>
<path d="M271,40.4H304" stroke="#000" stroke-width="1.8" stroke-dasharray="1.5,0.8,1.5,2.9"/>
<path d="M271,55.2H304" stroke="#0000ff" stroke-width="1.9" stroke-dasharray="1.45,1.45"/>
<rect x="53.1" y="15.0" width="265.40" height="198.40" stroke="#222" stroke-width="1"/>
<path d="M69.69,213.4v-1.8M69.69,15.0v1.8M86.28,213.4v-1.8M86.28,15.0v1.8M102.86,213.4v-1.8M102.86,15.0v1.8M119.45,213.4v-3.6M119.45,15.0v3.6M136.04,213.4v-1.8M136.04,15.0v1.8M152.62,213.4v-1.8M152.62,15.0v1.8M169.21,213.4v-1.8M169.21,15.0v1.8M185.80,213.4v-3.6M185.80,15.0v3.6M202.39,213.4v-1.8M202.39,15.0v1.8M218.97,213.4v-1.8M218.97,15.0v1.8M235.56,213.4v-1.8M235.56,15.0v1.8M252.15,213.4v-3.6M252.15,15.0v3.6M268.74,213.4v-1.8M268.74,15.0v1.8M285.32,213.4v-1.8M285.32,15.0v1.8M301.91,213.4v-1.8M301.91,15.0v1.8M53.1,196.87h1.8M318.5,196.87h-1.8M53.1,180.33h3.6M318.5,180.33h-3.6M53.1,163.80h1.8M318.5,163.80h-1.8M53.1,147.27h3.6M318.5,147.27h-3.6M53.1,130.73h1.8M318.5,130.73h-1.8M53.1,114.20h3.6M318.5,114.20h-3.6M53.1,97.67h1.8M318.5,97.67h-1.8M53.1,81.13h3.6M318.5,81.13h-3.6M53.1,64.60h1.8M318.5,64.60h-1.8M53.1,48.07h3.6M318.5,48.07h-3.6M53.1,31.53h1.8M318.5,31.53h-1.8" stroke="#222" stroke-width="1"/>
</g>
<g style="filter:grayscale(1)">
<text transform="translate(54.8,228.8) scale(1.06,1)" text-anchor="middle" font-size="11.9">0</text><text transform="translate(121.1,228.8) scale(1.06,1)" text-anchor="middle" font-size="11.9">0.5</text><text transform="translate(187.5,228.8) scale(1.06,1)" text-anchor="middle" font-size="11.9">1</text><text transform="translate(253.8,228.8) scale(1.06,1)" text-anchor="middle" font-size="11.9">1.5</text><text transform="translate(320.2,228.8) scale(1.06,1)" text-anchor="middle" font-size="11.9">2</text><text transform="translate(46.3,216.2) scale(1.06,1)" text-anchor="end" font-size="11.9">0</text><text transform="translate(46.3,183.1) scale(1.06,1)" text-anchor="end" font-size="11.9">0.2</text><text transform="translate(46.3,150.1) scale(1.06,1)" text-anchor="end" font-size="11.9">0.4</text><text transform="translate(46.3,117.0) scale(1.06,1)" text-anchor="end" font-size="11.9">0.6</text><text transform="translate(46.3,83.9) scale(1.06,1)" text-anchor="end" font-size="11.9">0.8</text><text transform="translate(46.3,50.9) scale(1.06,1)" text-anchor="end" font-size="11.9">1</text><text transform="translate(46.3,17.8) scale(1.06,1)" text-anchor="end" font-size="11.9">1.2</text>
<text x="194.20" y="29" textLength="5.80" lengthAdjust="spacingAndGlyphs" font-style="italic">μ</text><text x="202.20" y="29" textLength="30.10" lengthAdjust="spacingAndGlyphs" >[MeV]</text><text x="235.70" y="29" textLength="8.60" lengthAdjust="spacingAndGlyphs" >=</text><text x="246.70" y="29" textLength="17.80" lengthAdjust="spacingAndGlyphs" >250</text><text x="246.70" y="43.3" textLength="17.80" lengthAdjust="spacingAndGlyphs" >500</text><text x="246.70" y="58" textLength="17.80" lengthAdjust="spacingAndGlyphs" >750</text><text x="216.90" y="77.5" textLength="8.00" lengthAdjust="spacingAndGlyphs" font-style="italic">ω</text><text x="228.30" y="77.5" textLength="9.20" lengthAdjust="spacingAndGlyphs" >=</text><text x="239.90" y="77.5" textLength="5.60" lengthAdjust="spacingAndGlyphs" >0</text><text x="246.90" y="77.5" textLength="2.20" lengthAdjust="spacingAndGlyphs" >,</text><text x="251.40" y="77.5" textLength="10.00" lengthAdjust="spacingAndGlyphs" font-style="italic">m</text><text x="264.80" y="77.5" textLength="9.10" lengthAdjust="spacingAndGlyphs" >=</text><text x="276.50" y="77.5" textLength="9.20" lengthAdjust="spacingAndGlyphs" >Δ</text><text x="288.70" y="77.5" textLength="8.90" lengthAdjust="spacingAndGlyphs" >=</text><text x="300.60" y="77.5" textLength="5.80" lengthAdjust="spacingAndGlyphs" >0</text><text x="233.00" y="93.0" textLength="7.90" lengthAdjust="spacingAndGlyphs" font-style="italic">T</text><text x="244.90" y="93.0" textLength="8.40" lengthAdjust="spacingAndGlyphs" >=</text><text x="256.40" y="93.0" textLength="5.80" lengthAdjust="spacingAndGlyphs" >0</text><text x="263.50" y="93.0" textLength="24.00" lengthAdjust="spacingAndGlyphs" >MeV</text><text x="166.20" y="246.7" textLength="5.10" lengthAdjust="spacingAndGlyphs" font-style="italic" font-weight="bold">q</text><text x="180.70" y="246.7" textLength="26.80" lengthAdjust="spacingAndGlyphs" >[GeV]</text><path d="M165,238.3V249.6M174.3,238.3V249.6" stroke="#222" stroke-width="0.8" fill="none"/>
<text transform="translate(13.0,115.6) rotate(-90) scale(1.2,1)" text-anchor="middle" font-style="italic" font-size="12.8">R</text>
</g>
</svg></body></html>
